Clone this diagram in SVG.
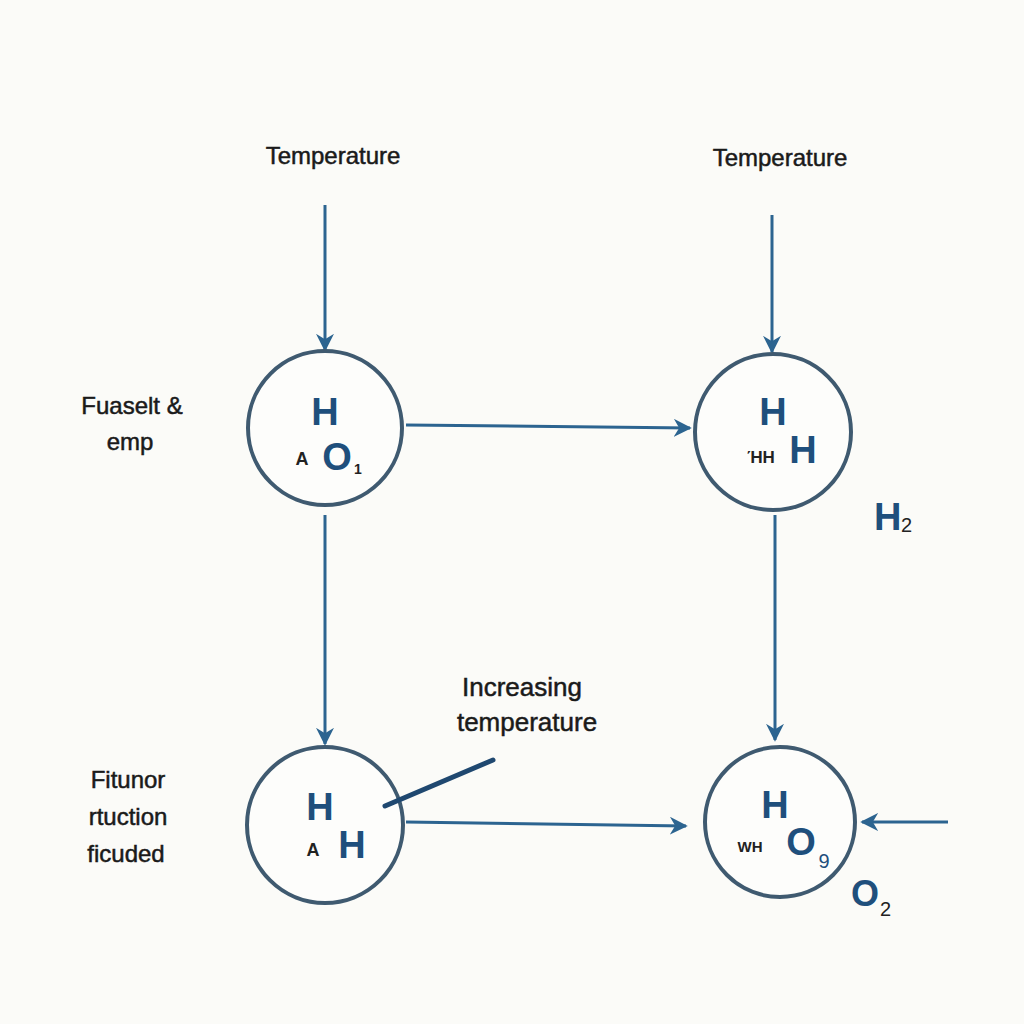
<svg xmlns="http://www.w3.org/2000/svg" width="1024" height="1024" viewBox="0 0 1024 1024">
<defs>
<marker id="ah" viewBox="0 0 10 10" refX="9" refY="5" markerWidth="18" markerHeight="18" markerUnits="userSpaceOnUse" orient="auto">
<path d="M0,0 L10,5 L0,10 L3,5 Z" fill="#2c6490"/>
</marker>
<style>
.lbl{font-family:"Liberation Sans",Arial,sans-serif;font-size:24px;fill:#1a1a1a;stroke:#1a1a1a;stroke-width:0.5;text-anchor:middle}
.node circle{fill:#fdfdfb;stroke:#3f5a70;stroke-width:4}
.big{font-family:"Liberation Sans",Arial,sans-serif;font-weight:bold;font-size:38px;fill:#1f4f7c;text-anchor:middle}
.sm{font-family:"Liberation Sans",Arial,sans-serif;font-weight:bold;font-size:18px;fill:#222;text-anchor:middle}
.conn line{stroke:#2c6490;stroke-width:3;fill:none}
</style>
</defs>
<rect width="1024" height="1024" fill="#fbfbf8"/>
<g class="conn">
<line x1="325" y1="205" x2="325" y2="350" marker-end="url(#ah)"/>
<line x1="772" y1="215" x2="772" y2="352" marker-end="url(#ah)"/>
<line x1="406" y1="425" x2="690" y2="428" marker-end="url(#ah)"/>
<line x1="325" y1="515" x2="325" y2="744" marker-end="url(#ah)"/>
<line x1="775" y1="515" x2="775" y2="740" marker-end="url(#ah)"/>
<line x1="406" y1="822" x2="686" y2="826" marker-end="url(#ah)"/>
<line x1="948" y1="822" x2="862" y2="822" marker-end="url(#ah)"/>
</g>
<text class="lbl" x="333" y="164">Temperature</text>
<text class="lbl" x="780" y="166">Temperature</text>
<text class="lbl" x="132" y="414">Fuaselt &amp;</text>
<text class="lbl" x="130" y="450">emp</text>
<text class="lbl" x="522" y="696" style="font-size:26px">Increasing</text>
<text class="lbl" x="527" y="731" style="font-size:26px">temperature</text>
<text class="lbl" x="128" y="788">Fitunor</text>
<text class="lbl" x="128" y="825">rtuction</text>
<text class="lbl" x="126" y="862">ficuded</text>
<g id="n1" class="node">
<circle cx="325" cy="428" r="77"/>
<text class="big" x="325" y="425">H</text>
<text class="sm" x="302" y="465">A</text>
<text class="big" x="337" y="470">O</text>
<text class="sm" x="358" y="474" style="font-size:14px">1</text>
</g>
<g id="n2" class="node">
<circle cx="773" cy="432" r="78"/>
<text class="big" x="773" y="425">H</text>
<text class="sm" x="761" y="463" style="font-size:17px">ΉH</text>
<text class="big" x="803" y="463">H</text>
</g>
<g id="n3" class="node">
<circle cx="325" cy="825" r="78"/>
<text class="big" x="320" y="820">H</text>
<text class="sm" x="313" y="856">A</text>
<text class="big" x="352" y="858">H</text>
</g>
<g id="n4" class="node">
<circle cx="780" cy="822" r="75"/>
<text class="big" x="775" y="818">H</text>
<text class="sm" x="750" y="852" style="font-size:15px">WH</text>
<text class="big" x="801" y="855">O</text>
<text class="sm" x="824" y="868" style="font-size:20px;fill:#1f4f7c;font-weight:normal">9</text>
</g>
<g class="conn">
<line x1="385" y1="806" x2="493" y2="760" style="stroke:#1f4870;stroke-width:5;stroke-linecap:round"/>
</g>
<g id="h2">
<text class="big" x="874" y="530" style="text-anchor:start">H</text>
<text class="sm" x="901" y="532" style="text-anchor:start;font-size:20px;font-weight:normal">2</text>
</g>
<g id="o2">
<text class="big" x="851" y="906" style="text-anchor:start;font-size:36px">O</text>
<text class="sm" x="880" y="916" style="text-anchor:start;font-size:20px;font-weight:normal">2</text>
</g>
</svg>
